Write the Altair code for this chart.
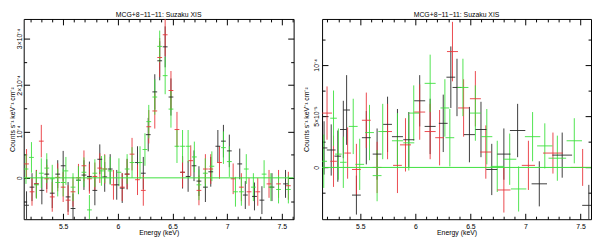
import altair as alt
import pandas as pd

FONT = "Liberation Sans"
TITLE = "MCG+8\u221211\u221211: Suzaku XIS"
YTITLE = "Counts s\u207b\u00b9 keV\u207b\u00b9 cm\u207b\u00b2"
BLACK, RED, GREEN = "#262626", "#e8343a", "#3ce03c"

# ---------------- Left panel (values in units of 1e-4) ----------------
L_HALF_BIN = 0.022

LB_E = [5.165, 5.215, 5.255, 5.305, 5.350, 5.400, 5.450, 5.500, 5.545, 5.590,
        5.640, 5.690, 5.740, 5.790, 5.835, 5.880, 5.930, 5.990, 6.040, 6.085,
        6.180, 6.233, 6.278, 6.338, 6.383, 6.433, 6.486, 6.592, 6.643, 6.697,
        6.742, 6.801, 6.850, 6.915, 6.966, 7.020, 7.115, 7.166, 7.250, 7.318,
        7.410, 7.534]
LB_V = [-0.59, -0.20, -0.13, -0.27, 0.08, -0.33, 0.08, 0.26, -0.41, -0.66,
        -0.05, 0.06, 0.03, -0.27, 0.40, 0.02, 0.19, -0.15, -0.22, 0.08,
        0.33, 0.10, 0.93, 1.85, 2.52, 2.82, 1.74, 0.12, 0.03, 0.26,
        -0.07, -0.20, 0.13, 0.68, 0.79, 0.58, 0.30, -0.37, -0.40, -0.48,
        -0.20, -0.13]
LB_DY = [0.30, 0.30, 0.30, 0.30, 0.32, 0.32, 0.30, 0.32, 0.32, 0.32,
         0.30, 0.32, 0.32, 0.32, 0.32, 0.32, 0.32, 0.32, 0.32, 0.33,
         0.35, 0.35, 0.36, 0.38, 0.42, 0.44, 0.40, 0.35, 0.33, 0.33,
         0.32, 0.32, 0.32, 0.35, 0.35, 0.35, 0.33, 0.30, 0.30, 0.30,
         0.30, 0.30]

LR_E = [5.165, 5.215, 5.255, 5.300, 5.350, 5.400, 5.450, 5.500, 5.545, 5.590,
        5.640, 5.690, 5.740, 5.790, 5.835, 5.880, 5.960, 6.040, 6.085, 6.130,
        6.180, 6.233, 6.283, 6.338, 6.383, 6.433, 6.486, 6.541, 6.592, 6.667,
        6.742, 6.801, 6.850, 6.930, 7.055, 7.130, 7.200, 7.280, 7.383, 7.470,
        7.560]
LR_V = [0.30, -0.30, -0.13, 0.79, -0.02, -0.41, 0.01, -0.20, -0.48, -0.30,
        0.00, 0.26, -0.02, 0.03, 0.21, 0.19, -0.15, -0.20, 0.08, 0.51,
        -0.04, -0.27, 1.10, 1.44, 2.59, 3.08, 1.88, 1.04, 0.12, 0.37,
        -0.27, 0.19, 0.19, 0.33, -0.02, -0.20, -0.30, -0.30, -0.13, -0.13,
        -0.17]
LR_DY = [0.32, 0.30, 0.30, 0.35, 0.30, 0.32, 0.30, 0.32, 0.32, 0.32,
         0.30, 0.33, 0.32, 0.30, 0.32, 0.32, 0.32, 0.30, 0.32, 0.35,
         0.33, 0.33, 0.36, 0.38, 0.42, 0.46, 0.42, 0.38, 0.33, 0.33,
         0.32, 0.32, 0.32, 0.35, 0.33, 0.30, 0.30, 0.30, 0.30, 0.30,
         0.30]

LG_E = [5.160, 5.210, 5.255, 5.300, 5.350, 5.400, 5.450, 5.500, 5.525, 5.590,
        5.640, 5.690, 5.740, 5.790, 5.850, 5.880, 5.930, 6.010, 6.085, 6.130,
        6.203, 6.248, 6.283, 6.338, 6.383, 6.433, 6.486, 6.541, 6.592, 6.643,
        6.700, 6.742, 6.800, 6.860, 6.966, 7.020, 7.076, 7.130, 7.175, 7.240,
        7.338, 7.400, 7.470, 7.560]
LG_V = [0.19, 0.44, -0.15, 0.10, 0.21, -0.02, -0.10, -0.10, 0.15, -0.20,
        -0.05, 0.12, -0.69, 0.10, 0.15, 0.19, 0.15, 0.12, 0.19, 0.33,
        0.33, 0.61, 1.21, 1.74, 2.83, 2.20, 1.48, 0.68, 0.68, 0.68,
        0.45, -0.15, 0.10, 0.25, 0.65, 0.35, -0.30, -0.30, 0.19, -0.20,
        0.08, -0.20, -0.25, -0.25]
LG_DY = [0.32, 0.33, 0.30, 0.32, 0.32, 0.30, 0.30, 0.30, 0.30, 0.30,
         0.30, 0.32, 0.32, 0.30, 0.32, 0.30, 0.30, 0.30, 0.32, 0.33,
         0.35, 0.35, 0.36, 0.38, 0.34, 0.40, 0.40, 0.36, 0.35, 0.35,
         0.33, 0.33, 0.32, 0.32, 0.35, 0.33, 0.32, 0.30, 0.32, 0.30,
         0.30, 0.30, 0.30, 0.30]

# ---------------- Right panel (values in units of 1e-4) ----------------
RB_E = [5.170, 5.235, 5.295, 5.345, 5.375, 5.464, 5.554, 5.652, 5.747, 5.837,
        5.940, 6.039, 6.134, 6.253, 6.322, 6.378, 6.491, 6.596, 6.694, 6.804,
        6.929, 7.126, 7.334, 7.576]
RB_V = [0.19, 0.17, 0.11, 0.37, 0.56, -0.27, 0.29, 0.13, 0.42, 0.30,
        0.27, 0.65, 0.40, 0.43, 0.88, 0.78, 0.32, 0.37, -0.02, 0.13,
        0.36, -0.16, 0.12, -0.37]
RB_DY = [0.26, 0.25, 0.25, 0.28, 0.34, 0.19, 0.26, 0.25, 0.27, 0.27,
         0.27, 0.25, 0.27, 0.28, 0.30, 0.28, 0.27, 0.27, 0.25, 0.25,
         0.26, 0.22, 0.22, 0.20]
RB_DX = [0.030, 0.040, 0.030, 0.030, 0.030, 0.040, 0.040, 0.040, 0.040, 0.050,
         0.050, 0.050, 0.050, 0.040, 0.040, 0.040, 0.050, 0.050, 0.050, 0.060,
         0.070, 0.070, 0.090, 0.060]

RR_E = [5.197, 5.256, 5.384, 5.464, 5.554, 5.652, 5.747, 5.837, 5.910, 6.039,
        6.134, 6.220, 6.337, 6.438, 6.545, 6.640, 6.804, 7.027, 7.250, 7.520]
RR_V = [0.53, 0.06, 0.14, -0.02, 0.46, 0.00, 0.35, 0.02, 0.22, 0.54,
        0.35, 0.29, 1.13, 0.58, 0.67, 0.15, -0.22, 0.02, 0.14, 0.00]
RR_DY = [0.26, 0.25, 0.25, 0.25, 0.27, 0.25, 0.27, 0.27, 0.26, 0.27,
         0.27, 0.27, 0.29, 0.28, 0.27, 0.26, 0.22, 0.24, 0.20, 0.18]
RR_DX = [0.045, 0.030, 0.030, 0.040, 0.040, 0.040, 0.040, 0.040, 0.050, 0.050,
         0.050, 0.040, 0.050, 0.050, 0.050, 0.050, 0.060, 0.060, 0.090, 0.110]

RG_E = [5.167, 5.256, 5.300, 5.345, 5.435, 5.494, 5.583, 5.652, 5.703, 5.837,
        5.940, 5.985, 6.134, 6.268, 6.313, 6.432, 6.545, 6.649, 6.744, 6.857,
        6.938, 7.065, 7.176, 7.290, 7.444]
RG_V = [0.06, 0.48, 0.13, 0.05, 0.40, 0.03, 0.34, -0.08, 0.35, 0.26,
        0.24, 0.53, 0.82, 0.58, 0.29, 0.78, 0.53, 0.30, 0.01, 0.08,
        -0.21, 0.30, 0.21, 0.09, 0.26]
RG_DY = [0.26, 0.27, 0.25, 0.25, 0.27, 0.25, 0.27, 0.25, 0.27, 0.27,
         0.27, 0.27, 0.28, 0.28, 0.28, 0.28, 0.27, 0.27, 0.25, 0.25,
         0.22, 0.24, 0.22, 0.22, 0.22]
RG_DX = [0.030, 0.030, 0.030, 0.030, 0.040, 0.040, 0.040, 0.040, 0.040, 0.050,
         0.050, 0.050, 0.050, 0.040, 0.040, 0.050, 0.050, 0.050, 0.060, 0.060,
         0.070, 0.070, 0.070, 0.080, 0.070]

MODEL = [0.0]

X_MAJOR = [5.5, 6.0, 6.5, 7.0, 7.5]
X_MINOR = [5.2, 5.3, 5.4, 5.6, 5.7, 5.8, 5.9, 6.1, 6.2, 6.3, 6.4, 6.6, 6.7,
           6.8, 6.9, 7.1, 7.2, 7.3, 7.4, 7.6]
L_Y_MAJOR = [0, 1, 2, 3]
L_Y_MINOR = [-0.5, 0.5, 1.5, 2.5]
R_Y_MAJOR = [0, 0.5, 1.0]
R_Y_MINOR = [-0.25, 0.25, 0.75, 1.25]

L_LABELS = ("datum.value == 0 ? '0' : datum.value == 1 ? '10\u207b\u2074' : "
            "datum.value == 2 ? '2\u00d710\u207b\u2074' : datum.value == 3 ? '3\u00d710\u207b\u2074' : ''")
R_LABELS = ("datum.value == 0 ? '0' : datum.value == 0.5 ? '5\u00d710\u207b\u2075' : "
            "datum.value == 1 ? '10\u207b\u2074' : ''")

INST = ["XIS0", "XIS3", "XIS1"]


def table(E, V, DY, DX, inst):
    if not isinstance(DX, list):
        DX = [DX] * len(E)
    return pd.DataFrame({
        "E": E, "v": V,
        "lo": [v - d for v, d in zip(V, DY)],
        "hi": [v + d for v, d in zip(V, DY)],
        "xlo": [e - d for e, d in zip(E, DX)],
        "xhi": [e + d for e, d in zip(E, DX)],
        "inst": inst,
    })


AX = dict(grid=False, domain=False, tickColor="black", tickWidth=1,
          labelFont=FONT, labelFontSize=7, labelColor="black",
          titleFont=FONT, titleFontSize=7, titleColor="black",
          titleFontWeight="normal", labelOverlap=False, labelFlush=False)


def panel(df, xdom, ydom, ymaj, ymin, lexpr, w, h, lpad, tpad):
    xs = alt.Scale(domain=xdom, nice=False, zero=False)
    ys = alt.Scale(domain=ydom, nice=False, zero=False)
    col = alt.Color("inst:N", legend=None,
                    scale=alt.Scale(domain=INST, range=[BLACK, RED, GREEN]))
    base = alt.Chart(df)
    vb = base.mark_rule(strokeWidth=0.9, clip=True).encode(
        x=alt.X("E:Q", scale=xs, axis=None),
        y=alt.Y("lo:Q", scale=ys, axis=None), y2="hi:Q", color=col)
    hb = base.mark_rule(strokeWidth=0.9, clip=True).encode(
        x=alt.X("xlo:Q", scale=xs, axis=None), x2="xhi:Q",
        y=alt.Y("v:Q", scale=ys, axis=None), color=col)
    zero = alt.Chart(pd.DataFrame({"m": MODEL})).mark_rule(
        color=GREEN, strokeWidth=1).encode(y=alt.Y("m:Q", scale=ys, axis=None))

    def axl(xa, ya):
        return base.mark_point(opacity=0, clip=True).encode(
            x=alt.X("E:Q", scale=xs, axis=xa), y=alt.Y("v:Q", scale=ys, axis=ya))

    xb = alt.Axis(orient="bottom", values=X_MAJOR, tickSize=6, offset=-6,
                  labelPadding=3, format=".1~f", title="Energy (keV)",
                  titlePadding=0, **AX)
    xt = alt.Axis(orient="top", values=X_MAJOR, tickSize=6, offset=-6,
                  labels=False, title=None, **AX)
    xbm = alt.Axis(orient="bottom", values=X_MINOR, tickSize=3, offset=-3,
                   labels=False, title=None, **AX)
    xtm = alt.Axis(orient="top", values=X_MINOR, tickSize=3, offset=-3,
                   labels=False, title=None, **AX)
    yl = alt.Axis(orient="left", values=ymaj, tickSize=6, offset=-6,
                  labelAngle=270, labelAlign="center", labelBaseline="bottom",
                  labelPadding=lpad, labelExpr=lexpr, title=YTITLE,
                  titlePadding=tpad, **AX)
    yr = alt.Axis(orient="right", values=ymaj, tickSize=6, offset=-6,
                  labels=False, title=None, **AX)
    ylm = alt.Axis(orient="left", values=ymin, tickSize=3, offset=-3,
                   labels=False, title=None, **AX)
    yrm = alt.Axis(orient="right", values=ymin, tickSize=3, offset=-3,
                   labels=False, title=None, **AX)

    return alt.layer(
        vb, hb, zero,
        axl(xb, yl), axl(xt, yr), axl(xbm, ylm), axl(xtm, yrm),
    ).resolve_axis(x="independent", y="independent").properties(
        width=w, height=h,
        title=alt.Title(TITLE, font=FONT, fontSize=7, fontWeight="normal",
                        color="black", anchor="middle", frame="group", offset=1),
    )


left_df = pd.concat([table(LB_E, LB_V, LB_DY, L_HALF_BIN, INST[0]),
                     table(LR_E, LR_V, LR_DY, L_HALF_BIN, INST[1]),
                     table(LG_E, LG_V, LG_DY, L_HALF_BIN, INST[2])])
right_df = pd.concat([table(RB_E, RB_V, RB_DY, RB_DX, INST[0]),
                      table(RR_E, RR_V, RR_DY, RR_DX, INST[1]),
                      table(RG_E, RG_V, RG_DY, RG_DX, INST[2])])

left = panel(left_df, [5.139, 7.608], [-0.89, 3.42], L_Y_MAJOR, L_Y_MINOR,
             L_LABELS, 275, 204, 1, 0)
right = panel(right_df, [5.152, 7.596], [-0.505, 1.448], R_Y_MAJOR, R_Y_MINOR,
              R_LABELS, 274, 204, 3, 3)

chart = alt.hconcat(left, right, spacing=7).properties(
    padding={"left": 0, "top": 0, "right": 0, "bottom": 0}
).configure_view(stroke="black", strokeWidth=1)

chart.save("out.html", embed_options={"renderer": "svg", "actions": False})
